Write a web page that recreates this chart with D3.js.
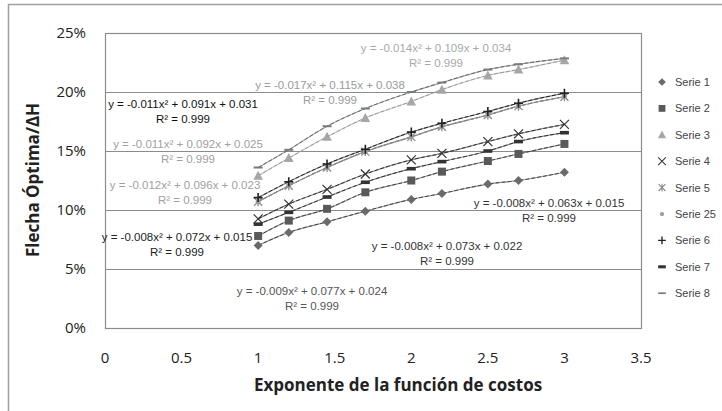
<!DOCTYPE html>
<html>
<head>
<meta charset="utf-8">
<script src="https://cdnjs.cloudflare.com/ajax/libs/d3/7.8.5/d3.min.js"></script>
<style>
  body { margin: 0; background: #fff; }
  svg { display: block; font-family: "Liberation Sans", Arial, sans-serif; }
</style>
</head>
<body>
<svg id="chart" width="722" height="411"></svg>
<script>
// exponent values (x) and optimum sag / ΔH in percent
const xValues = [1, 1.2, 1.45, 1.7, 2, 2.2, 2.5, 2.7, 3];
const serie1  = [7.0, 8.1, 9.0, 9.9, 10.9, 11.4, 12.2, 12.5, 13.2];
const serie2  = [7.8, 9.1, 10.1, 11.5, 12.5, 13.25, 14.15, 14.75, 15.6];
const serie3  = [12.9, 14.4, 16.2, 17.8, 19.2, 20.2, 21.4, 21.9, 22.7];
const serie4  = [9.25, 10.5, 11.75, 13.05, 14.25, 14.8, 15.8, 16.45, 17.25];
const serie5  = [10.7, 12.05, 13.6, 14.95, 16.2, 17.05, 18.05, 18.8, 19.6];
const serie25 = [10.7, 12.05, 13.6, 14.95, 16.2, 17.05, 18.05, 18.8, 19.6];
const serie6  = [11.05, 12.4, 13.9, 15.15, 16.6, 17.35, 18.35, 19.05, 19.9];
const serie7  = [8.8, 9.8, 11.1, 12.35, 13.5, 14.1, 15.0, 15.8, 16.55];
const serie8  = [13.6, 15.1, 17.1, 18.6, 20.0, 20.8, 21.9, 22.35, 22.85];

const seriesNames = ["Serie 1", "Serie 2", "Serie 3", "Serie 4", "Serie 5", "Serie 25", "Serie 6", "Serie 7", "Serie 8"];
const xTicks = [0, 0.5, 1, 1.5, 2, 2.5, 3, 3.5];
const yTicks = [0, 5, 10, 15, 20, 25];

// trendline labels: [equation, colour, x-centre, y of first line]
const equations = [
  ["y = -0.014x² + 0.109x + 0.034", "#a8a8a8", 436, 52],
  ["y = -0.017x² + 0.115x + 0.038", "#9a9a9a", 330, 89],
  ["y = -0.011x² + 0.091x + 0.031", "#111", 183, 108],
  ["y = -0.011x² + 0.092x + 0.025", "#a0a0a0", 188, 148],
  ["y = -0.012x² + 0.096x + 0.023", "#a0a0a0", 185, 189],
  ["y = -0.008x² + 0.072x + 0.015", "#222", 177, 241],
  ["y = -0.009x² + 0.077x + 0.024", "#555", 312, 295],
  ["y = -0.008x² + 0.073x + 0.022", "#333", 447, 250],
  ["y = -0.008x² + 0.063x + 0.015", "#333", 549, 207]
];

const svg = d3.select("#chart");
const margin = { top: 33, left: 105 };
const innerWidth = 536, innerHeight = 295;
const tickFont = "'Open Sans', 'Liberation Sans', sans-serif";

// outer chart border: only the left and top edges are inside the picture
svg.append("path")
  .attr("d", "M8.5,411V4.5H722")
  .attr("fill", "none").attr("stroke", "#a0a0a0").attr("stroke-width", 1.5);

const x = d3.scaleLinear().domain([0, 3.5]).range([margin.left, margin.left + innerWidth]);
const y = d3.scaleLinear().domain([0, 25]).range([margin.top + innerHeight, margin.top]);

// gridlines
svg.selectAll(".grid")
  .data(yTicks.filter(d => d > 0 && d < 25))
  .enter().append("line")
  .attr("x1", x(0)).attr("x2", x(3.5))
  .attr("y1", d => Math.round(y(d)) + 0.5).attr("y2", d => Math.round(y(d)) + 0.5)
  .attr("stroke", "#8c8c8c").attr("stroke-width", 1.2);

svg.append("rect")
  .attr("x", x(0) + 0.5).attr("y", y(25) + 0.5)
  .attr("width", innerWidth).attr("height", innerHeight)
  .attr("fill", "none").attr("stroke", "#8c8c8c").attr("stroke-width", 1.2);

// tick labels
svg.selectAll(".ytick")
  .data(yTicks)
  .enter().append("text")
  .attr("x", x(0) - 19).attr("y", d => y(d) + 5)
  .attr("text-anchor", "end")
  .attr("font-size", 15).attr("fill", "#222")
  .style("font-family", tickFont)
  .text(d => d + "%");

svg.selectAll(".xtick")
  .data(xTicks)
  .enter().append("text")
  .attr("x", d => x(d)).attr("y", y(0) + 35)
  .attr("text-anchor", "middle")
  .attr("font-size", 15).attr("fill", "#222")
  .style("font-family", tickFont)
  .text(d => d3.format("")(d));

// axis titles
svg.append("text")
  .attr("x", 398).attr("y", 391)
  .attr("text-anchor", "middle")
  .attr("font-size", 17).attr("font-weight", "bold").attr("fill", "#222")
  .style("font-family", tickFont)
  .text("Exponente de la función de costos");

svg.append("text")
  .attr("transform", "translate(39,180) rotate(-90)")
  .attr("text-anchor", "middle")
  .attr("font-size", 17).attr("font-weight", "bold").attr("fill", "#222")
  .style("font-family", tickFont)
  .text("Flecha Óptima/ΔH");

// series styling
const series = [
  { name: seriesNames[0], values: serie1,  marker: "diamond", color: "#6a6a6a", line: "#444" },
  { name: seriesNames[1], values: serie2,  marker: "square",  color: "#595959", line: "#444" },
  { name: seriesNames[2], values: serie3,  marker: "triangle", color: "#a6a6a6", line: "#9a9a9a" },
  { name: seriesNames[3], values: serie4,  marker: "x",       color: "#333",    line: "#333" },
  { name: seriesNames[4], values: serie5,  marker: "star",    color: "#8a8a8a", line: "#777" },
  { name: seriesNames[5], values: serie25, marker: "circle",  color: "#9a9a9a", line: "#888" },
  { name: seriesNames[6], values: serie6,  marker: "plus",    color: "#222",    line: "#222" },
  { name: seriesNames[7], values: serie7,  marker: "thickdash", color: "#333",  line: "#333" },
  { name: seriesNames[8], values: serie8,  marker: "thindash", color: "#7a7a7a", line: "#666" }
];

function drawMarker(sel, type, color) {
  switch (type) {
    case "diamond":
      sel.append("path").attr("d", "M0,-4.5L4.5,0L0,4.5L-4.5,0Z").attr("fill", color); break;
    case "square":
      sel.append("rect").attr("x", -4).attr("y", -4).attr("width", 8).attr("height", 8).attr("fill", color); break;
    case "triangle":
      sel.append("path").attr("d", "M0,-5L4.8,4L-4.8,4Z").attr("fill", color); break;
    case "x":
      sel.append("path").attr("d", "M-4.5,-4.5L4.5,4.5M-4.5,4.5L4.5,-4.5").attr("stroke", color).attr("stroke-width", 1.2); break;
    case "star":
      sel.append("path").attr("d", "M-4,-4L4,4M-4,4L4,-4M0,-4.5L0,4.5").attr("stroke", color).attr("stroke-width", 1.3); break;
    case "circle":
      sel.append("circle").attr("r", 2.5).attr("fill", color); break;
    case "plus":
      sel.append("path").attr("d", "M-4.5,0L4.5,0M0,-4.5L0,4.5").attr("stroke", color).attr("stroke-width", 1.6); break;
    case "thickdash":
      sel.append("rect").attr("x", -4.5).attr("y", -1.8).attr("width", 9).attr("height", 3.6).attr("fill", color); break;
    case "thindash":
      sel.append("rect").attr("x", -4.5).attr("y", -1).attr("width", 9).attr("height", 2).attr("fill", color); break;
  }
}

const line = d3.line()
  .x((d, i) => x(xValues[i]))
  .y(d => y(d))
  .curve(d3.curveMonotoneX);

series.forEach(s => {
  svg.append("path")
    .datum(s.values)
    .attr("fill", "none")
    .attr("stroke", s.line)
    .attr("stroke-opacity", 0.55)
    .attr("stroke-width", 1.2)
    .attr("d", line);
  svg.append("path")
    .datum(s.values)
    .attr("fill", "none")
    .attr("stroke", s.line)
    .attr("stroke-width", 1)
    .attr("stroke-dasharray", "4,2")
    .attr("d", line);
});

series.forEach(s => {
  svg.selectAll(null)
    .data(s.values)
    .enter().append("g")
    .attr("transform", (d, i) => `translate(${x(xValues[i])},${y(d)})`)
    .each(function () { drawMarker(d3.select(this), s.marker, s.color); });
});

// trendline equations
equations.forEach(([eq, color, cx, cy]) => {
  [eq, "R² = 0.999"].forEach((txt, k) => {
    svg.append("text")
      .attr("x", cx).attr("y", cy + k * 14.5)
      .attr("text-anchor", "middle")
      .attr("font-size", 11.5).attr("fill", color)
      .text(txt);
  });
});

// legend
const legendX = 662, legendY = 82, legendStep = 26.4;
series.forEach((s, i) => {
  const ly = legendY + i * legendStep;
  drawMarker(svg.append("g").attr("transform", `translate(${legendX},${ly}) scale(0.85)`), s.marker, s.color);
  svg.append("text")
    .attr("x", legendX + 13).attr("y", ly + 4)
    .attr("font-size", 11).attr("fill", "#444")
    .text(s.name);
});
</script>
</body>
</html>
